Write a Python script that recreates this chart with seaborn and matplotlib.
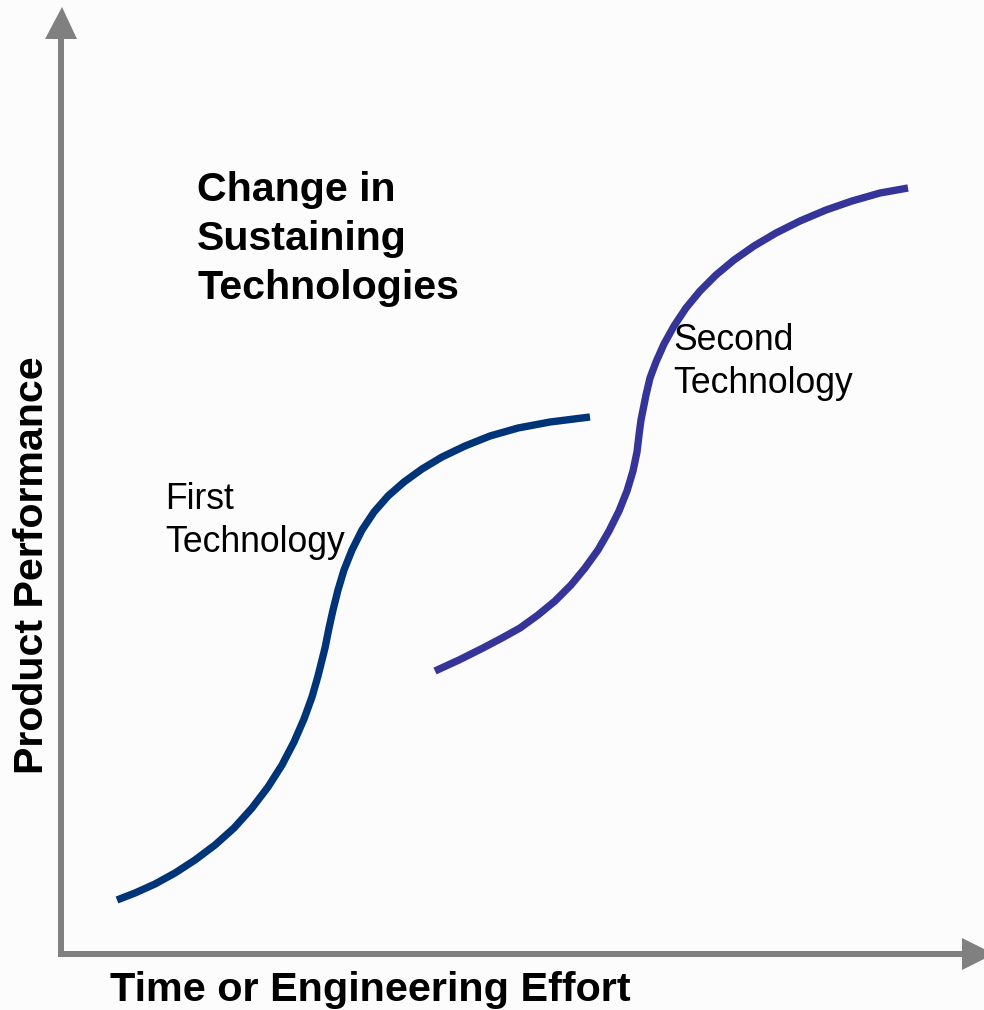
import matplotlib
matplotlib.use("Agg")
import matplotlib.pyplot as plt
import seaborn as sns
from matplotlib.patches import Polygon

sns.set_theme(style="white")
plt.rcParams['font.family'] = ['Liberation Sans', 'DejaVu Sans']

# ---- data (effort units along x, performance units along y; origin = axes corner)
first_effort = [56, 74, 94, 114, 134, 154, 173, 191, 207, 221, 233, 243, 251, 257, 261, 264,
                268, 272, 277, 283, 291, 301, 313, 327, 343, 361, 381, 404, 429, 457, 489, 529]
first_perf   = [54, 61, 70, 81, 94, 109, 126, 146, 167, 189, 212, 235, 257, 278, 294, 306,
                326, 344, 364, 384, 404, 424, 442, 458, 472, 485, 497, 508, 518, 526, 532, 537]

second_effort = [374, 398, 422, 441, 459, 477, 494, 510, 524, 537, 548, 558, 566, 572, 576, 578, 580,
                 582, 585, 589, 595, 603, 613, 625, 639, 655, 673, 693, 715, 739, 765, 791, 819, 847]
second_perf   = [283, 294, 306, 316, 326, 339, 353, 369, 386, 404, 423, 443, 463, 483, 502, 519, 534,
                 544, 559, 576, 592, 610, 628, 646, 663, 679, 694, 708, 721, 733, 744, 753, 761, 766]

title_lines = ["Change in", "Sustaining", "Technologies"]
first_label = ["First", "Technology"]
second_label = ["Second", "Technology"]
x_label = "Time or Engineering Effort"
y_label = "Product Performance"

FIRST_COLOR = "#003478"
SECOND_COLOR = "#353599"
AXIS_COLOR = "#808080"
BG = "#fcfcfc"

fig = plt.figure(figsize=(9.84, 10.10), dpi=100, facecolor=BG)
ax = fig.add_axes([0, 0, 1, 1])
ax.set_facecolor(BG)
ax.set_xlim(-61, 923)
ax.set_ylim(-56, 954)
ax.axis("off")

# curves
sns.lineplot(x=first_effort, y=first_perf, sort=False, estimator=None, color=FIRST_COLOR,
             linewidth=5.3, ax=ax, solid_capstyle="butt", solid_joinstyle="round")
sns.lineplot(x=second_effort, y=second_perf, sort=False, estimator=None, color=SECOND_COLOR,
             linewidth=5.3, ax=ax, solid_capstyle="butt", solid_joinstyle="round")

# axes with arrows
lw = 4.3
ax.plot([0, 0], [-3, 920], color=AXIS_COLOR, lw=lw, solid_capstyle="butt")
ax.plot([-3, 903], [0, 0], color=AXIS_COLOR, lw=lw, solid_capstyle="butt")
ax.add_patch(Polygon([[-16, 915], [16, 915], [1, 947]], closed=True, color=AXIS_COLOR, lw=0))
ax.add_patch(Polygon([[901, 16], [901, -16], [933, 0]], closed=True, color=AXIS_COLOR, lw=0))

# texts (positions in the same effort/perf frame)
def px(x, y):
    return x - 61, 954 - y

for line, base in zip(title_lines, [201, 250, 299]):
    ax.text(*px(197, base), line, fontsize=29.6, fontweight="bold", color="black",
            ha="left", va="baseline")

for line, base in zip(first_label, [509, 552]):
    ax.text(*px(165, base), line, fontsize=25.6, color="black", ha="left", va="baseline")

for line, base in zip(second_label, [350, 393]):
    ax.text(*px(673, base), line, fontsize=25.6, color="black", ha="left", va="baseline")

ax.text(*px(110, 1001), x_label, fontsize=29.8, fontweight="bold", color="black",
        ha="left", va="baseline")
ax.text(*px(32, 565), y_label, fontsize=29.6, fontweight="bold", color="black",
        ha="center", va="center", rotation=90)

fig.savefig("out.png", dpi=100, facecolor=BG)
